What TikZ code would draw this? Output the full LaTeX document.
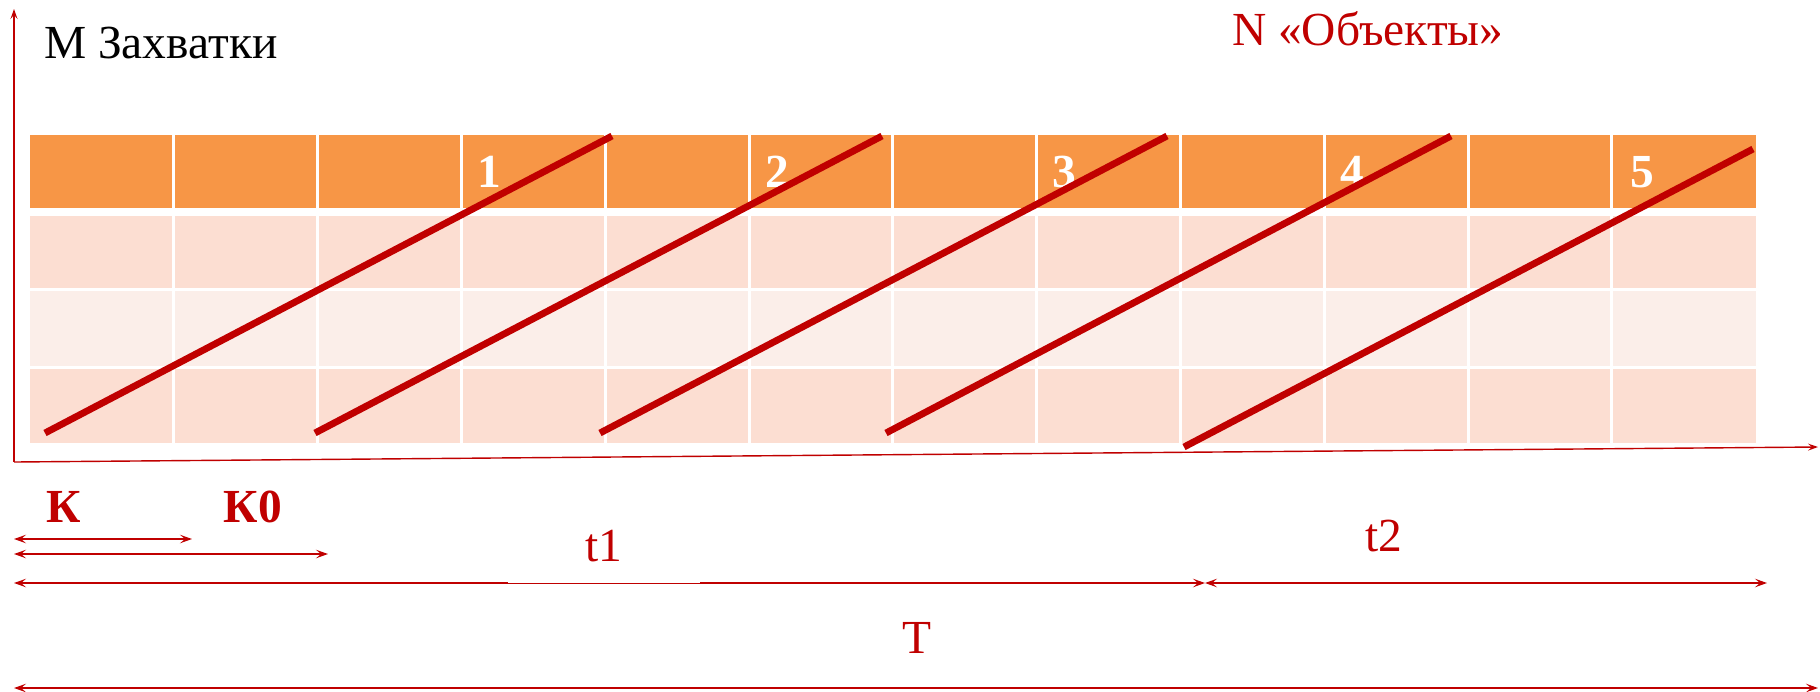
\documentclass[tikz,border=0pt]{standalone}
\usepackage{fontspec}
\setmainfont{Liberation Serif}
\usetikzlibrary{arrows.meta}
\definecolor{darkred}{HTML}{C00000}
\definecolor{headorange}{HTML}{F79646}
\definecolor{rowpink}{RGB}{252,222,210}
\definecolor{rowpale}{RGB}{251,238,233}

\begin{document}
\begin{tikzpicture}[x=0.02cm, y=-0.02cm,
  axis/.style={draw=darkred, line width=0.8pt, -{Stealth[length=0.2cm, width=0.14cm, inset=0.08cm]}},
  dimarrow/.style={draw=darkred, line width=0.9pt,
                   {Stealth[length=0.24cm, width=0.17cm, inset=0.1cm]}-{Stealth[length=0.24cm, width=0.17cm, inset=0.1cm]}},
  flow/.style={draw=darkred, line width=3.9pt},
  lbl/.style={font=\fontsize{27}{32}\selectfont, inner sep=1pt},
  redlbl/.style={lbl, text=darkred},
  boldlbl/.style={redlbl, font=\bfseries\fontsize{27}{32}\selectfont},
  num/.style={lbl, text=white, font=\bfseries\fontsize{27}{32}\selectfont}
]
  \useasboundingbox (0,0) rectangle (1820,691);

  % ===== Grid of sections =====
  \fill[headorange] (30,135) rectangle (1756,208);
  \fill[rowpink]    (30,216) rectangle (1756,288);
  \fill[rowpale]    (30,291) rectangle (1756,366);
  \fill[rowpink]    (30,369) rectangle (1756,443);
  \foreach \c in {1,...,11}
    \draw[white, line width=1.7pt] ({30+143.8*\c},130) -- ({30+143.8*\c},448);

  % Object numbers in the header row
  \foreach \x/\n in {489/1, 777/2, 1064/3, 1352/4, 1642/5}
    \node[num] (obj\n) at (\x,172) {\n};

  % ===== Flow lines of the objects =====
  \draw[flow] (45,433)   -- (612,136);
  \draw[flow] (315,433)  -- (882,136);
  \draw[flow] (600,433)  -- (1167,136);
  \draw[flow] (886,433)  -- (1451,136);
  \draw[flow] (1184,447) -- (1753,149);

  % ===== Axes =====
  \coordinate (o)  at (14,462);
  \coordinate (ym) at (14,9);
  \coordinate (xn) at (1818,447);
  \draw[axis] (o) -- (ym);
  \draw[axis] (o) -- (xn);

  \node[lbl, anchor=west] (mlab) at (42,43) {М Захватки};
  \node[redlbl, anchor=west] (nlab) at (1230,29) {N «Объекты»};

  % ===== Time spans =====
  \coordinate (k0)  at (14,539);  \coordinate (k1)  at (192,539);
  \coordinate (kk0) at (14,554);  \coordinate (kk1) at (328,554);
  \coordinate (ta)  at (14,583);  \coordinate (tb)  at (1205,583);
  \coordinate (tc)  at (1767,583);
  \coordinate (ba)  at (14,688);  \coordinate (bb)  at (1818,688);

  \draw[dimarrow] (k0) -- (k1);
  \draw[dimarrow] (kk0) -- (kk1);
  \draw[dimarrow] (ta) -- (tb);
  \draw[dimarrow] (tb) -- (tc);
  \draw[dimarrow, line width=1.1pt] (ba) -- (bb);

  \node[boldlbl] (klab)  at (64,507)  {К};
  \node[boldlbl] (k0lab) at (253,507) {К0};
  \node[redlbl, fill=white, anchor=south, minimum width=3.86cm, minimum height=1.48cm] (t1lab) at (604,583.5) {t1};
  \node[redlbl] (t2lab) at (1384,536) {t2};
  \node[redlbl] (tlab)  at (917,638)  {T};
\end{tikzpicture}
\end{document}
